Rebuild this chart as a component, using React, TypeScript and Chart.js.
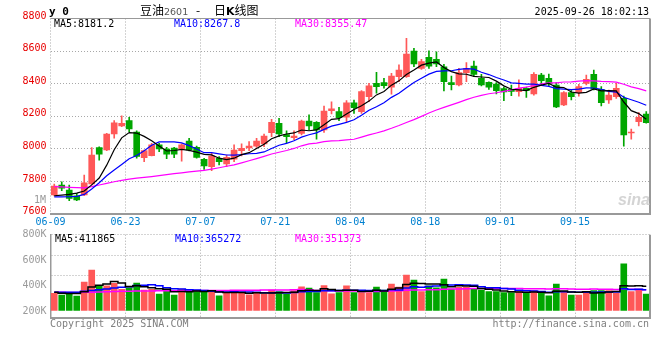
import React, { useEffect, useRef } from 'react';
import { Chart, registerables } from 'chart.js';
Chart.register(...registerables);

const dates = [
  '06-09','06-10','06-11','06-12','06-13','06-16','06-17','06-18','06-19','06-20',
  '06-23','06-24','06-25','06-26','06-27','06-30','07-01','07-02','07-03','07-04',
  '07-07','07-08','07-09','07-10','07-11','07-14','07-15','07-16','07-17','07-18',
  '07-21','07-22','07-23','07-24','07-25','07-28','07-29','07-30','07-31','08-01',
  '08-04','08-05','08-06','08-07','08-08','08-11','08-12','08-13','08-14','08-15',
  '08-18','08-19','08-20','08-21','08-22','08-25','08-26','08-27','08-28','08-29',
  '09-01','09-02','09-03','09-04','09-05','09-08','09-09','09-10','09-11','09-12',
  '09-15','09-16','09-17','09-18','09-19','09-22','09-23','09-24','09-25','09-26',
];
const tickDates = ['06-09', '06-23', '07-07', '07-21', '08-04', '08-18', '09-01', '09-15'];

const open = [
  7717,7778,7747,7712,7717,7784,8007,7993,8091,8140,
  8173,8103,7946,7958,8024,7999,8005,7999,8048,8009,
  7936,7890,7942,7907,7936,7989,8005,8017,8030,8099,
  8157,8087,8068,8095,8170,8163,8116,8234,8228,8194,
  8283,8228,8320,8402,8406,8378,8443,8443,8600,8494,
  8562,8549,8504,8406,8392,8468,8508,8433,8408,8398,
  8370,8365,8351,8372,8337,8453,8432,8392,8269,8345,
  8345,8402,8457,8365,8300,8320,8310,8097,8167,8214,
];
const high = [
  7784,7798,7778,7727,7839,8007,8013,8095,8173,8202,
  8194,8110,7993,8034,8034,8009,8009,8030,8065,8017,
  7942,7973,7952,7962,8024,8030,8044,8065,8091,8181,
  8187,8110,8110,8177,8208,8167,8263,8289,8255,8296,
  8300,8357,8402,8470,8433,8464,8515,8678,8617,8549,
  8602,8596,8519,8447,8494,8529,8539,8457,8412,8406,
  8379,8392,8423,8379,8468,8464,8459,8406,8351,8361,
  8396,8453,8484,8382,8361,8402,8324,8122,8222,8228,
];
const low = [
  7711,7743,7682,7682,7712,7778,7931,7989,8065,8136,
  8105,7942,7921,7956,7983,7940,7946,7925,7987,7942,
  7874,7866,7901,7890,7921,7956,7989,8009,8013,8075,
  8075,8038,8054,8085,8116,8060,8101,8214,8173,8167,
  8218,8218,8290,8341,8372,8335,8412,8439,8504,8488,
  8494,8504,8355,8361,8386,8412,8443,8386,8365,8337,
  8296,8326,8324,8315,8330,8392,8382,8253,8265,8300,
  8324,8392,8361,8263,8279,8310,8017,8060,8140,8157,
];
const close = [
  7772,7758,7696,7686,7792,7962,7968,8091,8160,8157,
  8122,7954,7989,8024,7999,7968,7968,8024,7993,7948,
  7895,7956,7921,7948,7993,8003,8017,8048,8079,8163,
  8091,8075,8079,8170,8140,8116,8232,8246,8191,8283,
  8253,8351,8386,8382,8388,8447,8484,8582,8521,8535,
  8508,8521,8412,8394,8468,8494,8457,8392,8378,8357,
  8349,8353,8372,8357,8457,8418,8402,8258,8345,8320,
  8382,8427,8367,8283,8330,8372,8085,8101,8194,8160,
];
const ma5 = [
  7712,7716,7720,7728,7740.8,7778.8,7820.8,7899.8,7994.6,8067.6,
  8099.6,8096.8,8076.4,8049.2,8017.6,7986.8,7989.6,7996.6,7990.4,7980.2,
  7965.6,7963.2,7942.6,7933.6,7942.6,7964.2,7976.4,8001.8,8028,8062,
  8079.6,8091.2,8097.4,8115.6,8111,8116,8147.4,8180.8,8185,8213.6,
  8241,8264.8,8292.8,8331,8352,8390.8,8417.4,8456.6,8484.4,8513.8,
  8526,8533.4,8499.4,8474,8460.6,8457.8,8445,8441,8437.8,8415.6,
  8386.6,8365.8,8361.8,8357.6,8377.6,8391.4,8401.2,8378.4,8376,8348.6,
  8341.4,8346.4,8368.2,8355.8,8357.8,8355.8,8287.4,8234.2,8216.4,8181.2,
];
const ma10 = [
  7705,7705,7706,7708,7720,7753,7792,7835,7870,7904.2,
  7939.2,7958.8,7988.1,8021.9,8042.6,8043.2,8043.2,8036.5,8019.8,7998.9,
  7976.2,7976.4,7969.6,7962,7961.4,7964.9,7969.8,7972.2,7980.8,8002.3,
  8021.9,8033.8,8049.6,8071.8,8086.5,8097.8,8119.3,8139.1,8150.3,8162.3,
  8178.5,8206.1,8236.8,8258,8282.8,8315.9,8341.1,8374.7,8407.7,8432.9,
  8458.4,8475.4,8478,8479.2,8487.2,8491.9,8489.2,8470.2,8455.9,8438.1,
  8422.2,8405.4,8401.4,8397.7,8396.6,8389,8383.5,8370.1,8366.8,8363.1,
  8366.4,8373.8,8373.3,8365.9,8353.2,8348.6,8316.9,8301.2,8286.1,8267.8,
];
const ma30 = [
  7768,7766,7764,7762,7760,7768,7778,7788,7798,7806,
  7814,7820,7825,7830,7836,7842,7848,7853,7858,7863,
  7868,7876,7884,7893,7902,7914,7927,7940,7954,7968.5,
  7979.1,7989.7,8002.4,8018.6,8030.2,8035.3,8044.1,8049.3,8050.3,8054.5,
  8058.9,8072.1,8085.3,8097.3,8110.2,8126.2,8143.4,8162,8179.6,8199.2,
  8219.6,8238.4,8254.8,8269.7,8285.5,8301.9,8316.5,8328,8338,8344.4,
  8353,8362.3,8372.1,8378.3,8388.9,8398.9,8404.6,8405,8410.1,8411.4,
  8415.7,8418.2,8417.6,8414.3,8412.3,8409.8,8396.5,8380.5,8369.6,8355.47,
];

// volume in thousands of lots
const volume = [
  339,326,347,318,428,522,397,397,418,371,
  383,420,365,371,334,365,326,373,360,360,
  347,360,320,344,360,344,328,344,331,365,
  352,334,360,391,381,344,399,336,344,397,
  344,344,344,389,365,412,389,483,444,352,
  397,383,452,373,386,386,373,365,352,352,
  344,344,352,344,360,339,320,412,352,326,
  326,344,360,360,360,339,570,352,373,334,
];
const volMa5 = [
  347,340,337,337,351.6,388,402,412,432,421,
  393,398,391,382,375,371,352,354,352,357,
  353,360,349,346,346,346,339,344,341,342,
  344,345,348,360,364,362,375,370,361,364,
  364,353,355,364,357,371,380,408,419,416,
  413,412,406,391,398,396,394,377,372,366,
  357,351,349,347,349,348,343,355,357,350,
  347,352,342,343,350,353,398,396,399,394,
];
const volMa10 = [
  347,347,347,347,355,362,368,374,380,386,
  391,400,402,407,398,382,375,373,367,366,
  362,356,352,349,352,349,350,347,344,344,
  345,342,346,351,353,353,360,359,361,364,
  363,364,362,362,361,367,366,381,391,387,
  392,396,407,405,407,405,403,391,382,382,
  377,373,363,360,357,353,347,352,352,349,
  348,348,348,350,350,350,375,369,371,368,
];
const volMa30 = [
  347,347,346,346,347,348,350,352,354,355,
  356,357,358,358,359,359,360,360,361,361,
  361,362,362,362,363,363,364,364,365,365.4,
  365.9,366.1,366.6,369,367.4,361.5,361.6,359.5,357.1,357.9,
  356.6,354.1,353.4,354,355,356.6,358.7,362.4,365.2,364.9,
  366.6,367.3,371.7,372.7,373.6,375,376.5,377.2,377.9,377.4,
  377.2,377.5,377.2,375.7,375,374.8,372.2,374.7,375,372.6,
  372,372,372.5,371.6,371.4,369,375,370.6,368.3,367.7,
];
const volLabelTicks = [200, 400, 600, 800];
const volGridTicks = [481, 638, 800];

const RED = '#ff5858';
const GREEN = '#00a600';
const GRID = '#a8a8a8';
const FRAME = '#999999';
const MONO = '"DejaVu Sans Mono", monospace';

const candleColors = close.map((c, i) => (c >= open[i] ? RED : GREEN));

const framePlugin = (drawTop: boolean) => ({
  id: 'frame',
  afterDraw(chart: any) {
    const { ctx, chartArea: a } = chart;
    ctx.save();
    ctx.strokeStyle = FRAME;
    ctx.lineWidth = 2;
    ctx.beginPath();
    ctx.moveTo(a.right, a.top);
    ctx.lineTo(a.right, a.bottom + 1);
    ctx.stroke();
    if (drawTop) {
      ctx.lineWidth = 1;
      ctx.beginPath();
      ctx.moveTo(a.left, a.top);
      ctx.lineTo(a.right, a.top);
      ctx.stroke();
    }
    ctx.restore();
  },
});

function lineDs(label: string, data: number[], color: string, width: number, stepped: any = false) {
  return {
    type: 'line' as const,
    label,
    data,
    borderColor: color,
    borderWidth: width,
    pointRadius: 0,
    tension: 0,
    stepped,
    fill: false,
    order: 0,
  };
}

const noPad = (s: any, w: number) => {
  s.width = w;
  s.paddingTop = 0;
  s.paddingBottom = 0;
};

function PriceChart() {
  const ref = useRef<HTMLCanvasElement>(null);
  useEffect(() => {
    const chart = new Chart(ref.current!, {
      type: 'bar',
      data: {
        labels: dates,
        datasets: [
          lineDs('MA5', ma5, '#000000', 1.2),
          lineDs('MA10', ma10, '#0000ff', 1.2),
          lineDs('MA30', ma30, '#ff00ff', 1.2),
          {
            type: 'bar',
            label: 'body',
            data: open.map((o, i) => [Math.min(o, close[i]), Math.max(o, close[i])]),
            backgroundColor: candleColors,
            barThickness: 6,
            minBarLength: 1,
            grouped: false,
            order: 1,
          } as any,
          {
            type: 'bar',
            label: 'wick',
            data: low.map((l, i) => [l, high[i]]),
            backgroundColor: candleColors,
            barThickness: 1,
            grouped: false,
            order: 2,
          } as any,
        ],
      },
      options: {
        animation: false,
        responsive: false,
        maintainAspectRatio: false,
        events: [],
        plugins: { legend: { display: false }, tooltip: { enabled: false } },
        layout: { padding: { top: 18.5, right: 10, left: 0, bottom: 0 } },
        scales: {
          x: {
            offset: true,
            grid: {
              offset: true,
              drawTicks: false,
              color: (ctx: any) => (ctx.index !== undefined && ctx.index % 10 === 0 ? GRID : 'transparent'),
            },
            border: { display: true, color: FRAME, width: 2, dash: [1, 2] },
            ticks: {
              autoSkip: false,
              maxRotation: 0,
              padding: 2,
              labelOffset: -3.75,
              font: { family: MONO, size: 10 },
              color: '#0080d0',
              callback: (_v: any, i: number) => (tickDates.includes(dates[i]) ? dates[i] : ''),
            },
            afterFit: (s: any) => { s.height = 18; },
          },
          y: {
            min: 7600,
            max: 8800,
            ticks: {
              stepSize: 200,
              padding: 4,
              labelOffset: -2.5,
              font: { family: MONO, size: 10 },
              color: '#e80000',
              callback: (v: any) => String(v),
            },
            grid: { drawTicks: false, color: GRID },
            border: { display: false, dash: [1, 2] },
            afterFit: (s: any) => noPad(s, 50.5),
          },
        },
      },
      plugins: [framePlugin(true)],
    });
    return () => chart.destroy();
  }, []);
  return (
    <canvas ref={ref} width={660} height={232}
      style={{ position: 'absolute', left: 0, top: 0, width: 660, height: 232 }} />
  );
}

function VolumeChart() {
  const ref = useRef<HTMLCanvasElement>(null);
  useEffect(() => {
    const chart = new Chart(ref.current!, {
      type: 'bar',
      data: {
        labels: dates,
        datasets: [
          lineDs('MA5', volMa5, '#000000', 1.5, 'middle'),
          lineDs('MA10', volMa10, '#0000ff', 1.5, 'middle'),
          lineDs('MA30', volMa30, '#ff00ff', 1.5, 'middle'),
          {
            type: 'bar',
            label: 'volume',
            data: volume,
            base: 200,
            backgroundColor: candleColors,
            barThickness: 6,
            grouped: false,
            order: 1,
          } as any,
        ],
      },
      options: {
        animation: false,
        responsive: false,
        maintainAspectRatio: false,
        events: [],
        plugins: { legend: { display: false }, tooltip: { enabled: false } },
        layout: { padding: { top: 12.7, right: 10, left: 0, bottom: 0 } },
        scales: {
          x: {
            offset: true,
            grid: {
              offset: true,
              drawTicks: false,
              color: (ctx: any) => (ctx.index && ctx.index % 10 === 0 ? GRID : 'transparent'),
            },
            border: { display: true, color: FRAME, width: 2, dash: [1, 2] },
            ticks: { display: false },
            afterFit: (s: any) => { s.height = 4; },
          },
          y: {
            min: 145,
            max: 800,
            afterBuildTicks: (s: any) => {
              s.ticks = [...volLabelTicks, ...volGridTicks]
                .filter((v, i, arr) => arr.indexOf(v) === i)
                .sort((a, b) => a - b)
                .map((v) => ({ value: v }));
            },
            ticks: {
              padding: 4,
              font: { family: MONO, size: 10 },
              color: '#9a9a9a',
              callback: (v: any) => (volLabelTicks.includes(v) ? v + 'K' : ''),
            },
            grid: {
              drawTicks: false,
              color: (ctx: any) => (ctx.tick && volGridTicks.includes(ctx.tick.value) ? GRID : 'transparent'),
            },
            border: { display: true, color: FRAME, width: 1.5, dash: [1, 2] },
            afterFit: (s: any) => noPad(s, 50.5),
          },
        },
      },
      plugins: [framePlugin(false)],
    });
    return () => chart.destroy();
  }, []);
  return (
    <canvas ref={ref} width={660} height={100}
      style={{ position: 'absolute', left: 0, top: 222, width: 660, height: 100 }} />
  );
}

const txt = (extra: React.CSSProperties): React.CSSProperties => ({
  position: 'absolute',
  fontFamily: MONO,
  fontSize: 10,
  lineHeight: '10px',
  whiteSpace: 'nowrap',
  ...extra,
});

export default function App() {
  return (
    <div style={{ position: 'fixed', left: 0, top: 0, width: 660, height: 360, background: '#fff', overflow: 'hidden' }}>
      <PriceChart />
      <VolumeChart />
      <div style={txt({ left: 49, top: 6, fontSize: 11, lineHeight: '11px', fontWeight: 'bold', color: '#000' })}>y 0</div>
      <div style={{ position: 'absolute', left: 140, top: 4, fontFamily: '"Noto Sans CJK SC", sans-serif', fontSize: 12, lineHeight: '12px', color: '#000', whiteSpace: 'nowrap' }}>
        豆油<span style={{ fontFamily: '"DejaVu Sans", sans-serif', fontSize: 9.5, color: '#555' }}>2601</span>
      </div>
      <div style={{ position: 'absolute', left: 196, top: 4, fontFamily: '"Noto Sans CJK SC", sans-serif', fontSize: 12, lineHeight: '12px', color: '#000' }}>-</div>
      <div style={{ position: 'absolute', left: 214, top: 4, fontFamily: '"Noto Sans CJK SC", sans-serif', fontSize: 12, lineHeight: '12px', color: '#000', whiteSpace: 'nowrap' }}>
        日<b style={{ fontFamily: '"DejaVu Sans", sans-serif', fontSize: 11 }}>K</b>线图
      </div>
      <div style={txt({ right: 11, top: 7, color: '#000' })}>2025-09-26 18:02:13</div>
      <div style={txt({ left: 54, top: 19, color: '#000' })}>MA5:8181.2</div>
      <div style={txt({ left: 174, top: 19, color: '#0000ff' })}>MA10:8267.8</div>
      <div style={txt({ left: 295, top: 19, color: '#ff00ff' })}>MA30:8355.47</div>
      <div style={txt({ right: 614, top: 195, color: '#9a9a9a' })}>1M</div>
      <div style={{ position: 'absolute', left: 618, top: 192, fontFamily: '"Liberation Sans", sans-serif', fontSize: 16, fontWeight: 'bold', fontStyle: 'italic', color: '#d4d4d4', lineHeight: '16px' }}>sina</div>
      <div style={txt({ left: 55, top: 234, color: '#000' })}>MA5:411865</div>
      <div style={txt({ left: 175, top: 234, color: '#0000ff' })}>MA10:365272</div>
      <div style={txt({ left: 295, top: 234, color: '#ff00ff' })}>MA30:351373</div>
      <div style={txt({ left: 50, top: 319, color: '#808080' })}>Copyright 2025 SINA.COM</div>
      <div style={txt({ right: 11, top: 319, color: '#808080' })}>http://finance.sina.com.cn</div>
    </div>
  );
}
